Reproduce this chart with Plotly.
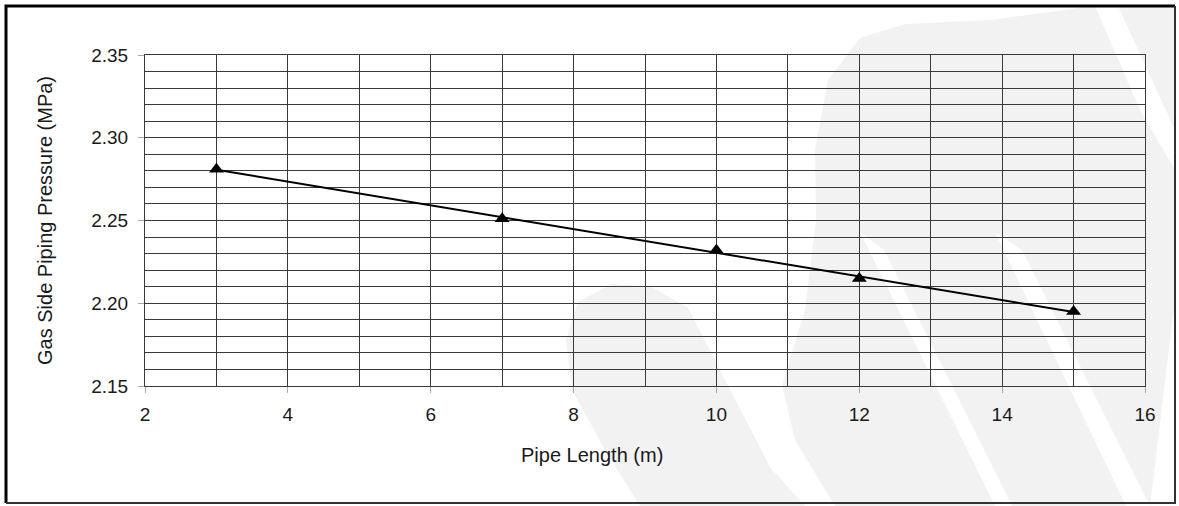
import numpy as np
import plotly.graph_objects as go

# data
pipe_length = [3, 7, 10, 12, 15]
pressure = [2.281, 2.251, 2.232, 2.215, 2.195]

x_title = "Pipe Length (m)"
y_title = "Gas Side Piping Pressure (MPa)"

# linear trend line through the points (like the Excel trendline)
slope, icpt = np.polyfit(pipe_length, pressure, 1)
trend_x = [pipe_length[0], pipe_length[-1]]
trend_y = [slope * v + icpt for v in trend_x]

W, H = 1179, 506
ML, MR, MT, MB = 145, 34, 55, 120
PW, PH = W - ML - MR, H - MT - MB


def px(x, y):
    # pixel -> paper coords
    return (x - ML) / PW, (H - MB - y) / PH


def path(pts):
    s = ""
    for i, (a, b) in enumerate(pts):
        u, v = px(a, b)
        s += ("M" if i == 0 else "L") + f"{u:.4f},{v:.4f} "
    return s + "Z"


# faint background watermark
wm = "#f2f2f2"
blob_low = [(640, 506), (605, 450), (572, 390), (566, 340), (578, 302), (612, 284),
            (652, 287), (688, 308), (770, 467), (805, 506)]
blob_big = [(835, 506), (795, 440), (782, 385), (805, 310), (816, 220), (815, 150),
            (828, 80), (860, 38), (905, 24), (990, 20), (1095, 6), (1140, 110),
            (1175, 170), (1175, 300), (1150, 506)]
blob_corner = [(1118, 6), (1175, 6), (1175, 130)]
cut_1 = [(860, 232), (884, 250), (1012, 506), (995, 506)]
cut_2 = [(995, 232), (1022, 250), (1150, 506), (1126, 506)]

shapes = []
for pts, col in ((blob_low, wm), (blob_big, wm), (blob_corner, wm),
                 (cut_1, "white"), (cut_2, "white")):
    shapes.append(dict(type="path", xref="paper", yref="paper", path=path(pts),
                       fillcolor=col, line=dict(width=0), layer="below"))

# outer frame
x0, y0 = px(6, 6)
x1, y1 = px(1175, 503)
shapes.append(dict(type="path", xref="paper", yref="paper",
                   path=f"M{x0},{y1} L{x0},{y0} L{x1},{y0}",
                   line=dict(color="black", width=3)))
shapes.append(dict(type="path", xref="paper", yref="paper",
                   path=f"M{x1},{y0} L{x1},{y1} L{x0},{y1}",
                   line=dict(color="#333333", width=2)))

fig = go.Figure()
fig.add_trace(go.Scatter(x=trend_x, y=trend_y, mode="lines",
                         line=dict(color="black", width=2), hoverinfo="skip"))
fig.add_trace(go.Scatter(x=pipe_length, y=pressure, mode="markers",
                         marker=dict(symbol="triangle-up", size=13, color="black")))

grid = "#3a3a3a"
txt = "#1a1a1a"
fig.update_xaxes(range=[2, 16], dtick=2, tick0=2, showgrid=True, gridcolor=grid, gridwidth=1,
                 minor=dict(dtick=1, showgrid=True, gridcolor=grid, gridwidth=1),
                 ticks="outside", ticklen=6, tickcolor="#aaaaaa", ticklabelstandoff=5,
                 showline=True, linecolor=grid, mirror=True, zeroline=False,
                 tickfont=dict(size=19, color=txt))
fig.update_yaxes(range=[2.15, 2.35], dtick=0.05, tick0=2.15, tickformat=".2f",
                 showgrid=True, gridcolor=grid, gridwidth=1,
                 minor=dict(dtick=0.01, showgrid=True, gridcolor=grid, gridwidth=1),
                 ticks="outside", ticklen=6, tickcolor="#aaaaaa", ticklabelstandoff=6,
                 showline=True, linecolor=grid, mirror=True, zeroline=False,
                 tickfont=dict(size=19, color=txt),
                 title=dict(text=y_title, font=dict(size=20, color=txt), standoff=33))

# x title sits left of the plot centre in the original
tx, ty = px(592, 455)
fig.add_annotation(text=x_title, xref="paper", yref="paper", x=tx, y=ty,
                   xanchor="center", yanchor="middle",
                   showarrow=False, font=dict(size=20, color=txt))

fig.update_layout(width=W, height=H, margin=dict(l=ML, r=MR, t=MT, b=MB),
                  paper_bgcolor="white", plot_bgcolor="rgba(0,0,0,0)",
                  font=dict(family="Liberation Sans, Arial, sans-serif"),
                  showlegend=False, shapes=shapes)

fig.write_html("out.html", config={"displayModeBar": False},
               post_script="document.body.style.margin='0';")
